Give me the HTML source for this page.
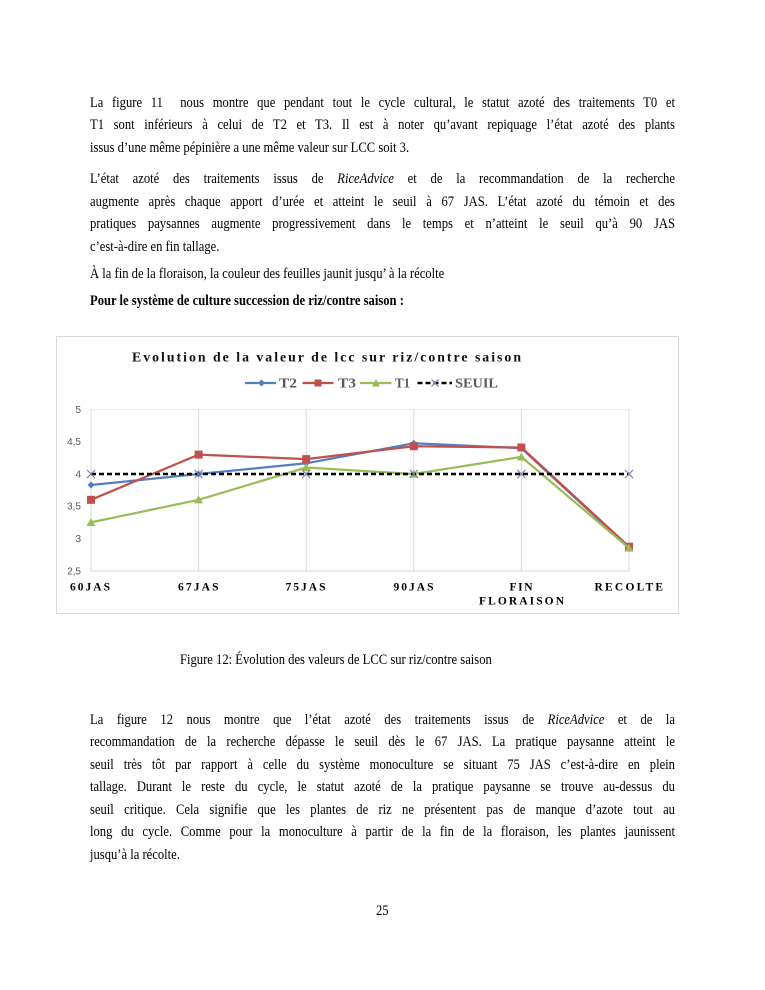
<!DOCTYPE html>
<html>
<head>
<meta charset="utf-8">
<style>
  html, body { margin:0; padding:0; background:#fff; }
  body { width:765px; height:990px; position:relative; overflow:hidden; }
  .p { position:absolute; left:90px; width:696.4px; transform:scaleX(0.84); transform-origin:0 0;
       font-family:"Liberation Serif", "Times New Roman", serif; font-size:15px; line-height:22.5px; color:#000; }
  .j { text-align:justify; text-align-last:justify; }
  .l { text-align:left; }
  svg { position:absolute; left:0; top:0; }
</style>
</head>
<body>

<div class="p" style="top:91.7px">
  <div class="j">La figure 11&nbsp; nous montre que pendant tout le cycle cultural, le statut azoté des traitements T0 et</div>
  <div class="j">T1 sont inférieurs à celui de T2 et T3. Il est à noter qu’avant repiquage l’état azoté des plants</div>
  <div class="l">issus d’une même pépinière a une même valeur sur LCC soit 3.</div>
</div>

<div class="p" style="top:168px">
  <div class="j">L’état azoté des traitements issus de <i>RiceAdvice</i> et de la recommandation de la recherche</div>
  <div class="j">augmente après chaque apport d’urée et atteint le seuil à 67 JAS. L’état azoté du témoin et des</div>
  <div class="j">pratiques paysannes augmente progressivement dans le temps et n’atteint le seuil qu’à 90 JAS</div>
  <div class="l">c’est-à-dire en fin tallage.</div>
</div>

<div class="p" style="top:262.7px">
  <div class="l">À la fin de la floraison, la couleur des feuilles jaunit jusqu’ à la récolte</div>
</div>

<div class="p" style="top:289.7px">
  <div class="l"><b>Pour le système de culture succession de riz/contre saison :</b></div>
</div>

<div class="p" style="top:648.7px; left:180px;">
  <div class="l">Figure 12: Évolution des valeurs de LCC sur riz/contre saison</div>
</div>

<div class="p" style="top:708.7px">
  <div class="j">La figure 12 nous montre que l’état azoté des traitements issus de <i>RiceAdvice</i> et de la</div>
  <div class="j">recommandation de la recherche dépasse le seuil dès le 67 JAS. La pratique paysanne atteint le</div>
  <div class="j">seuil très tôt par rapport à celle du système monoculture se situant 75 JAS c’est-à-dire en plein</div>
  <div class="j">tallage. Durant le reste du cycle, le statut azoté de la pratique paysanne se trouve au-dessus du</div>
  <div class="j">seuil critique. Cela signifie que les plantes de riz ne présentent pas de manque d’azote tout au</div>
  <div class="j">long du cycle. Comme pour la monoculture à partir de la fin de la floraison, les plantes jaunissent</div>
  <div class="l">jusqu’à la récolte.</div>
</div>

<div class="p" style="top:900.4px; left:376.4px; width:40px;">
  <div class="l">25</div>
</div>

<svg width="765" height="990" viewBox="0 0 765 990" xmlns="http://www.w3.org/2000/svg">
  <!-- chart frame -->
  <rect x="56.5" y="336.5" width="622" height="277" fill="none" stroke="#d9d9d9" stroke-width="1"/>

  <!-- title -->
  <text x="132" y="361.5" textLength="389" lengthAdjust="spacing" font-family="Liberation Serif, serif" font-weight="bold" font-size="13.8" fill="#111">Evolution de la valeur de lcc sur riz/contre saison</text>

  <!-- legend -->
  <g>
    <line x1="245" y1="383" x2="276" y2="383" stroke="#4f81bd" stroke-width="2.25"/>
    <path d="M261.5 379.5 L265 383 L261.5 386.5 L258 383 Z" fill="#4f81bd"/>
    <text x="279" y="387.5" textLength="18" lengthAdjust="spacingAndGlyphs" font-family="Liberation Serif, serif" font-weight="bold" font-size="13.5" fill="#595959">T2</text>

    <line x1="302.5" y1="383" x2="333.5" y2="383" stroke="#c0504d" stroke-width="2.25"/>
    <rect x="314.5" y="379.5" width="7" height="7" fill="#c0504d"/>
    <text x="338" y="387.5" textLength="18" lengthAdjust="spacingAndGlyphs" font-family="Liberation Serif, serif" font-weight="bold" font-size="13.5" fill="#595959">T3</text>

    <line x1="360" y1="383" x2="391.5" y2="383" stroke="#9bbb59" stroke-width="2.25"/>
    <path d="M376 379 L380 386.5 L372 386.5 Z" fill="#9bbb59"/>
    <text x="395" y="387.5" textLength="15" lengthAdjust="spacingAndGlyphs" font-family="Liberation Serif, serif" font-weight="bold" font-size="13.5" fill="#595959">T1</text>

    <line x1="417.5" y1="383" x2="452" y2="383" stroke="#000" stroke-width="2.5" stroke-dasharray="5,3"/>
    <path d="M431.5 379.5 L438.5 386.5 M438.5 379.5 L431.5 386.5" stroke="#7b7bab" stroke-width="1.2"/>
    <text x="455" y="387.5" textLength="43" lengthAdjust="spacingAndGlyphs" font-family="Liberation Serif, serif" font-weight="bold" font-size="13.5" fill="#595959">SEUIL</text>
  </g>

  <!-- gridlines -->
  <g stroke="#d9d9d9" stroke-width="1" fill="none">
    <line x1="91" y1="409.4" x2="629" y2="409.4" stroke="#ececec"/>
    <line x1="91" y1="409" x2="91" y2="571"/>
    <line x1="198.6" y1="409" x2="198.6" y2="571"/>
    <line x1="306.2" y1="409" x2="306.2" y2="571"/>
    <line x1="413.8" y1="409" x2="413.8" y2="571"/>
    <line x1="521.4" y1="409" x2="521.4" y2="571"/>
    <line x1="629" y1="409" x2="629" y2="571"/>
    <line x1="91" y1="571" x2="629" y2="571"/>
  </g>

  <!-- y labels -->
  <g font-family="Liberation Sans, sans-serif" font-size="10" fill="#595959" text-anchor="end">
    <text x="81" y="412.8">5</text>
    <text x="81" y="445.1">4,5</text>
    <text x="81" y="477.4">4</text>
    <text x="81" y="509.7">3,5</text>
    <text x="81" y="542">3</text>
    <text x="81" y="574.3">2,5</text>
  </g>

  <!-- x labels -->
  <g font-family="Liberation Serif, serif" font-weight="bold" font-size="11.5" fill="#000">
    <text x="70" y="590.5" textLength="40" lengthAdjust="spacing">60JAS</text>
    <text x="178" y="590.5" textLength="40.5" lengthAdjust="spacing">67JAS</text>
    <text x="285.5" y="590.5" textLength="40" lengthAdjust="spacing">75JAS</text>
    <text x="393.5" y="590.5" textLength="40" lengthAdjust="spacing">90JAS</text>
    <text x="509.5" y="590.5" textLength="23" lengthAdjust="spacing">FIN</text>
    <text x="479" y="604.5" textLength="85" lengthAdjust="spacing">FLORAISON</text>
    <text x="594.5" y="590.5" textLength="68.5" lengthAdjust="spacing">RECOLTE</text>
  </g>

  <!-- series T2 -->
  <polyline points="91,485 198.6,474 306.2,463.3 413.8,443.3 521.4,448.2 629,547.6" fill="none" stroke="#4f81bd" stroke-width="2.25" stroke-linejoin="round"/>
  <g fill="#4f81bd">
    <path d="M91 481.5 L94.5 485 L91 488.5 L87.5 485 Z"/>
    <path d="M198.6 470.5 L202.1 474 L198.6 477.5 L195.1 474 Z"/>
    <path d="M306.2 459.8 L309.7 463.3 L306.2 466.8 L302.7 463.3 Z"/>
    <path d="M413.8 439.8 L417.3 443.3 L413.8 446.8 L410.3 443.3 Z"/>
    <path d="M521.4 444.7 L524.9 448.2 L521.4 451.7 L517.9 448.2 Z"/>
    <path d="M629 544.1 L632.5 547.6 L629 551.1 L625.5 547.6 Z"/>
  </g>

  <!-- series T3 -->
  <polyline points="91,499.8 198.6,454.6 306.2,459.1 413.8,446.2 521.4,447.5 629,546.7" fill="none" stroke="#c0504d" stroke-width="2.25" stroke-linejoin="round"/>
  <g fill="#c0504d">
    <rect x="87" y="495.8" width="8" height="8"/>
    <rect x="194.6" y="450.6" width="8" height="8"/>
    <rect x="302.2" y="455.1" width="8" height="8"/>
    <rect x="409.8" y="442.2" width="8" height="8"/>
    <rect x="517.4" y="443.5" width="8" height="8"/>
    <rect x="625" y="542.7" width="8" height="8"/>
  </g>

  <!-- series T1 -->
  <polyline points="91,522.4 198.6,499.8 306.2,467.5 413.8,474 521.4,456.9 629,548" fill="none" stroke="#9bbb59" stroke-width="2.25" stroke-linejoin="round"/>
  <g fill="#9bbb59">
    <path d="M91 518 L95.5 526 L86.5 526 Z"/>
    <path d="M198.6 495.4 L203.1 503.4 L194.1 503.4 Z"/>
    <path d="M306.2 463.1 L310.7 471.1 L301.7 471.1 Z"/>
    <path d="M413.8 469.6 L418.3 477.6 L409.3 477.6 Z"/>
    <path d="M521.4 452.5 L525.9 460.5 L516.9 460.5 Z"/>
    <path d="M629 543.6 L633.5 551.6 L624.5 551.6 Z"/>
  </g>

  <!-- SEUIL -->
  <line x1="91" y1="474" x2="629" y2="474" stroke="#000" stroke-width="2.5" stroke-dasharray="5,3"/>
  <g stroke="#7b7bab" stroke-width="1.2">
    <path d="M87 470 L95 478 M95 470 L87 478"/>
    <path d="M194.6 470 L202.6 478 M202.6 470 L194.6 478"/>
    <path d="M302.2 470 L310.2 478 M310.2 470 L302.2 478"/>
    <path d="M409.8 470 L417.8 478 M417.8 470 L409.8 478"/>
    <path d="M517.4 470 L525.4 478 M525.4 470 L517.4 478"/>
    <path d="M625 470 L633 478 M633 470 L625 478"/>
  </g>
</svg>

</body>
</html>
